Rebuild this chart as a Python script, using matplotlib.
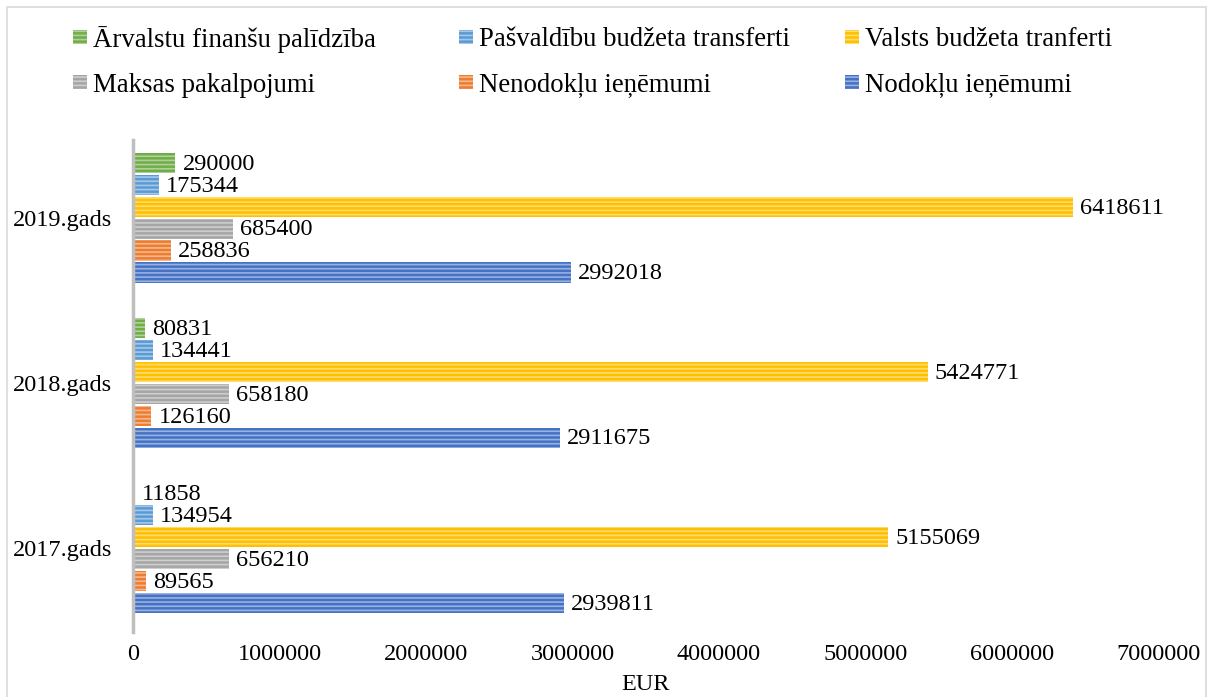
import matplotlib.pyplot as plt
import matplotlib.colors as mcolors
from matplotlib.patches import Rectangle
import numpy as np

plt.rcParams['font.family'] = ['Liberation Serif', 'DejaVu Serif']
plt.rcParams['hatch.linewidth'] = 1.2

years = ['2017.gads', '2018.gads', '2019.gads']

# series in plotting order (bottom to top inside each group)
series = ['Nodokļu ieņēmumi', 'Nenodokļu ieņēmumi', 'Maksas pakalpojumi',
          'Valsts budžeta tranferti', 'Pašvaldību budžeta transferti',
          'Ārvalstu finanšu palīdzība']
nodoklu = [2939811, 2911675, 2992018]
nenodoklu = [89565, 126160, 258836]
maksas = [656210, 658180, 685400]
valsts = [5155069, 5424771, 6418611]
pasvaldibu = [134954, 134441, 175344]
arvalstu = [11858, 80831, 290000]
values = [nodoklu, nenodoklu, maksas, valsts, pasvaldibu, arvalstu]
colors = ['#4472C4', '#ED7D31', '#A5A5A5', '#FFC000', '#5B9BD5', '#70AD47']


def lighten(c):
    return tuple(0.55 * np.array(mcolors.to_rgb(c)) + 0.45)


W, H = 1216, 697
fig = plt.figure(figsize=(W / 100, H / 100), dpi=100)
ax = fig.add_axes([133 / W, 1 - 632 / H, 1025.5 / W, 492 / H])

y = np.arange(len(years))
step = 0.133
h = 0.122
for i, (name, vals, c) in enumerate(zip(series, values, colors)):
    pos = y + (i - 2.5) * step
    ax.barh(pos, vals, height=h, color=c, edgecolor=lighten(c),
            linewidth=0, hatch='----')
    for p, v in zip(pos, vals):
        ax.annotate(str(v), (v, p), xytext=(5, -1), textcoords='offset points',
                    ha='left', va='center', fontsize=17.5)

ax.set_xlim(0, 7000000)
ax.set_ylim(-0.51, 2.47)
ax.set_xticks(np.arange(0, 7000001, 1000000))
ax.set_xticklabels([str(v) for v in range(0, 7000001, 1000000)])
ax.set_yticks(y)
ax.set_yticklabels(years)
ax.tick_params(axis='both', length=0, labelsize=17.5)
ax.tick_params(axis='x', pad=9)
ax.tick_params(axis='y', pad=15)
for s in ['top', 'right', 'bottom']:
    ax.spines[s].set_visible(False)
ax.spines['left'].set_color('#BFBFBF')
ax.spines['left'].set_linewidth(2.5)
ax.set_xlabel('EUR', fontsize=17.5, labelpad=6)

# legend laid out like the original: three equal-width columns
legend_rows = [['Ārvalstu finanšu palīdzība', 'Pašvaldību budžeta transferti',
                'Valsts budžeta tranferti'],
               ['Maksas pakalpojumi', 'Nenodokļu ieņēmumi', 'Nodokļu ieņēmumi']]
col_x = [73, 459, 845]
row_y = [37, 82]
for r, row in enumerate(legend_rows):
    for cidx, name in enumerate(row):
        c = colors[series.index(name)]
        x0, yc = col_x[cidx], row_y[r]
        fig.add_artist(Rectangle((x0 / W, 1 - (yc + 7) / H), 14 / W, 14 / H,
                                 transform=fig.transFigure, facecolor=c,
                                 edgecolor=lighten(c), linewidth=0,
                                 hatch='----'))
        fig.text((x0 + 20) / W, 1 - yc / H, name, fontsize=19.3,
                 ha='left', va='center_baseline')

fig.add_artist(Rectangle((7 / W, -0.01), 1199 / W, 1 - 7 / H + 0.01,
                         transform=fig.transFigure, fill=False,
                         edgecolor='#D9D9D9', linewidth=1.2))

fig.savefig('out.png', dpi=100)
